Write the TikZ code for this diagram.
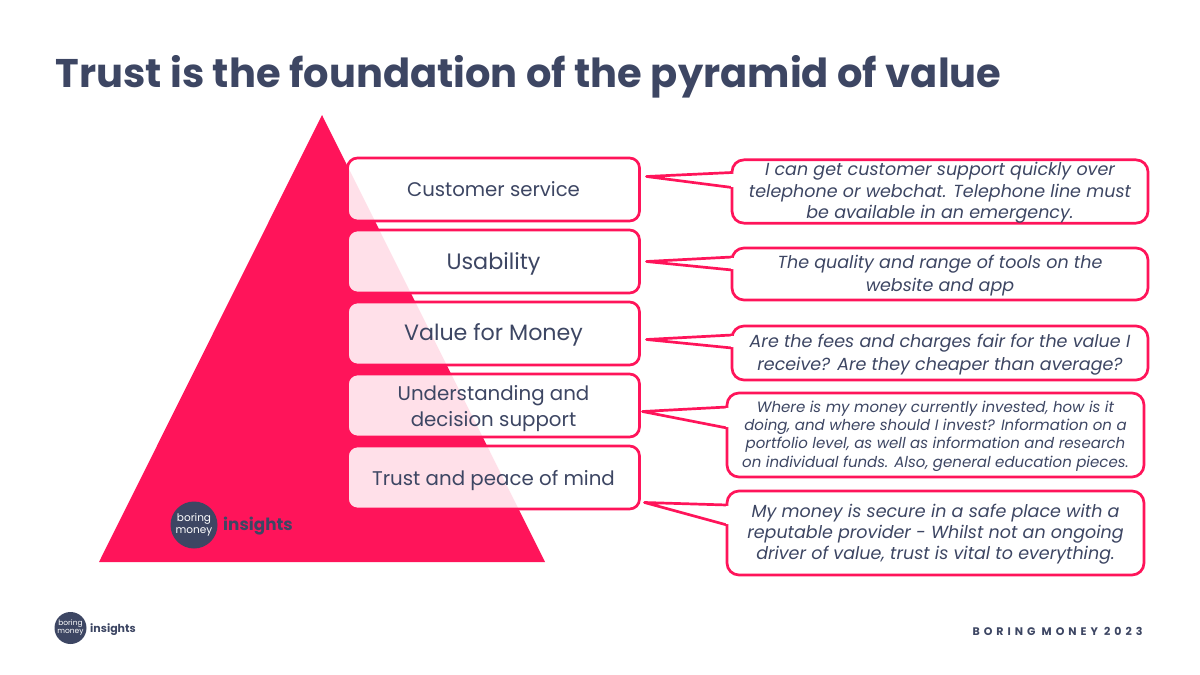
\documentclass[tikz,border=0pt]{standalone}
\usepackage{fontspec}
\setmainfont{Poppins}
\usetikzlibrary{positioning,calc}
\definecolor{brandpink}{RGB}{255,20,90}
\definecolor{brandnavy}{RGB}{61,70,99}
\newcommand{\fsize}[2]{\fontsize{#1}{#2}\selectfont}
\newcommand{\toph}[1]{\rule{0pt}{#1}}
\begin{document}
\begin{tikzpicture}[
    x=1pt, y=-1pt,
    node distance=9pt,
    level/.style={
        rectangle, rounded corners=10pt, draw=brandpink, line width=2.7pt,
        fill=white, fill opacity=0.87, text opacity=1, text=brandnavy,
        minimum width=292pt, minimum height=63pt, align=center, outer sep=0pt,
        inner sep=2pt
    },
    quotebox/.style={
        rectangle, rounded corners=12pt, draw=brandpink, line width=2.7pt,
        fill=white, text=brandnavy, align=center, outer sep=0pt, inner sep=0pt
    },
    tail/.style={draw=brandpink, line width=2.7pt, fill=white, line join=round},
    logo/.style={circle, fill=brandnavy, text=white, align=center, inner sep=0pt}
]
\useasboundingbox (0,0) rectangle (1200,675);

\node[anchor=west, text=brandnavy, font=\fsize{40}{48}\bfseries] (title) at (52,76.5) {Trust is the foundation of the pyramid of value};

% pyramid
\fill[brandpink] (322,115) -- (545,562) -- (99,562) -- cycle;

% levels
\node[level, font=\fsize{19.7}{26}, anchor=north west] (service) at (347.5,158) {Customer service};
\node[level, font=\fsize{22.3}{28}, below=of service] (usability) {\toph{22pt}Usability};
\node[level, font=\fsize{22.2}{28}, below=of usability] (value) {\toph{20.5pt}Value for Money};
\node[level, font=\fsize{19.8}{26}, below=of value] (support) {\toph{20.7pt}Understanding and\\decision support};
\node[level, font=\fsize{19.8}{26}, below=of support] (trust) {\toph{20.7pt}Trust and peace of mind};

% quotes
\node[quotebox, font=\itshape\fsize{17.5}{21.3}, minimum width=416pt, minimum height=61pt] (q1) at (940,191.5) {\toph{16pt}I can get customer support quickly over\\telephone or webchat. Telephone line must\\be available in an emergency.};
\node[quotebox, font=\itshape\fsize{17.5}{22.5}, minimum width=416pt, minimum height=52pt] (q2) at (940,274) {\toph{17pt}The quality and range of tools on the\\website and app};
\node[quotebox, font=\itshape\fsize{17.5}{23}, minimum width=416pt, minimum height=54pt] (q3) at (940,353) {\toph{17pt}Are the fees and charges fair for the value I\\receive? Are they cheaper than average?};
\node[quotebox, font=\itshape\fsize{15}{18.2}, minimum width=417pt, minimum height=84pt] (q4) at (935.5,435) {\toph{13.5pt}Where is my money currently invested, how is it\\doing, and where should I invest? Information on a\\portfolio level, as well as information and research\\on individual funds. Also, general education pieces.};
\node[quotebox, font=\itshape\fsize{17.5}{21}, minimum width=417pt, minimum height=84pt] (q5) at (935.5,533) {\toph{15pt}My money is secure in a safe place with a\\reputable provider - Whilst not an ongoing\\driver of value, trust is vital to everything.};

% tails
\coordinate (tip1) at ($(service.east)+(7,-13)$);
\coordinate (tip2) at ($(usability.east)+(7,0)$);
\coordinate (tip3) at ($(value.east)+(7,6)$);
\coordinate (tip4) at ($(support.east)+(3,6)$);
\coordinate (tip5) at ($(trust.east)+(5,25)$);
\path[tail] ($(q1.west)+(0,-19)$) -- (tip1) -- ($(q1.west)+(0,-4)$);
\path[tail] ($(q2.west)+(0,-17)$) -- (tip2) -- ($(q2.west)+(0,-4)$);
\path[tail] ($(q3.west)+(0,-18)$) -- (tip3) -- ($(q3.west)+(0,-5)$);
\path[tail] ($(q4.west)+(0,-28)$) -- (tip4) -- ($(q4.west)+(0,-7)$);
\path[tail] ($(q5.west)+(0,-28)$) -- (tip5) -- ($(q5.west)+(0,-8)$);
\fill[white] ($(q1.west)+(-1.5,-18)$) rectangle ($(q1.west)+(1.5,-5)$);
\fill[white] ($(q2.west)+(-1.5,-16)$) rectangle ($(q2.west)+(1.5,-5)$);
\fill[white] ($(q3.west)+(-1.5,-17)$) rectangle ($(q3.west)+(1.5,-6)$);
\fill[white] ($(q4.west)+(-1.5,-27)$) rectangle ($(q4.west)+(1.5,-8)$);
\fill[white] ($(q5.west)+(-1.5,-27)$) rectangle ($(q5.west)+(1.5,-9)$);

% logos
\node[logo, minimum size=47pt, font=\fsize{10.5}{11.5}] (logomid) at (194,525) {boring\\money};
\node[text=brandnavy, font=\fsize{16.8}{20}\bfseries, right=2pt of logomid, yshift=-1pt] (insightsmid) {insights};
\node[logo, minimum size=32pt, font=\fsize{7.5}{8}] (logofoot) at (70.5,628) {boring\\money};
\node[text=brandnavy, font=\fsize{11}{14}\bfseries, right=0pt of logofoot, yshift=-2pt] (insightsfoot) {insights};

\node[anchor=east, text=brandnavy, font=\fsize{11}{12}\bfseries\addfontfeature{LetterSpace=36}] (footer) at (1146,631) {BORING MONEY 2023};
\end{tikzpicture}
\end{document}
